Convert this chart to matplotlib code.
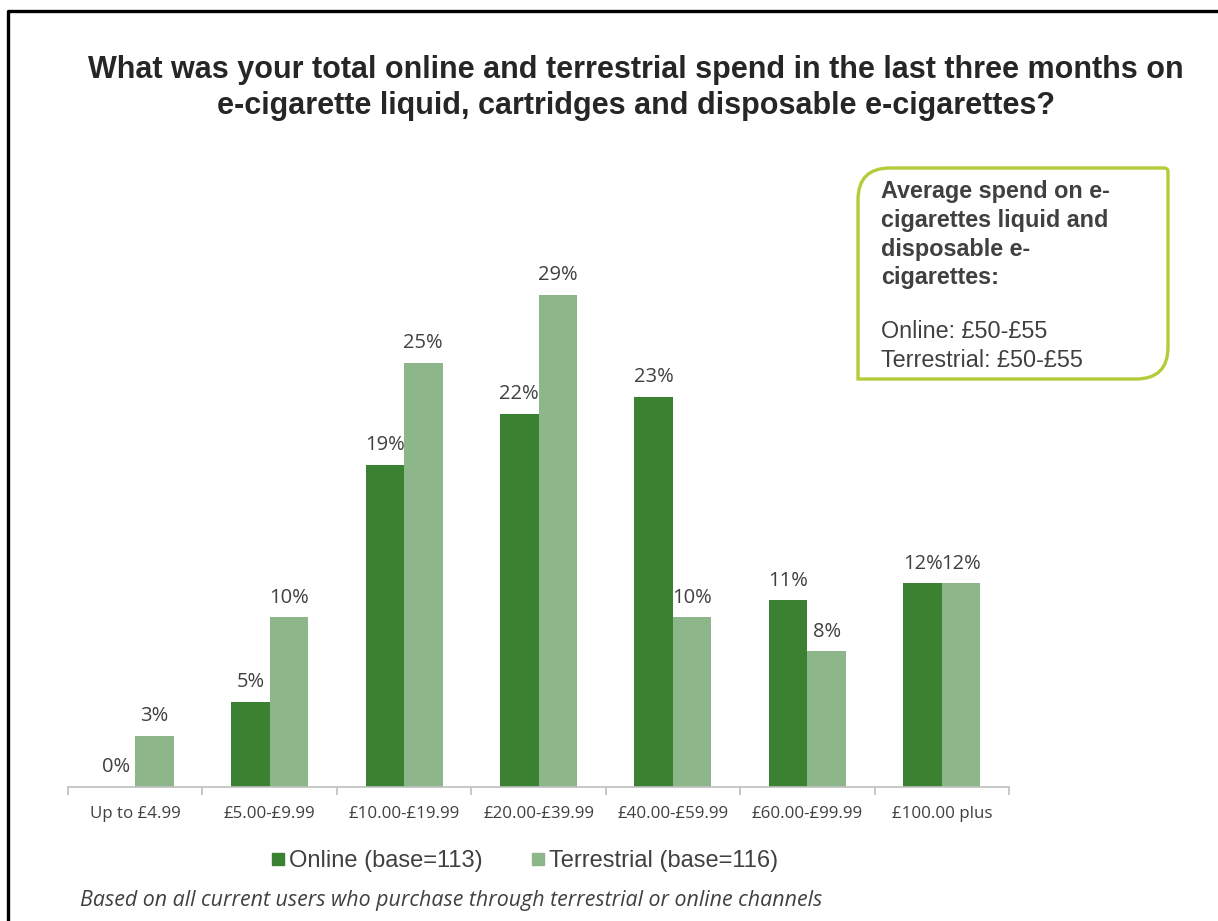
import matplotlib.pyplot as plt
import numpy as np
from matplotlib.patches import PathPatch
from matplotlib.path import Path
from matplotlib.lines import Line2D

categories = ["Up to £4.99", "£5.00-£9.99", "£10.00-£19.99", "£20.00-£39.99",
              "£40.00-£59.99", "£60.00-£99.99", "£100.00 plus"]
online = [0, 5, 19, 22, 23, 11, 12]
terrestrial = [3, 10, 25, 29, 10, 8, 12]
series_names = ["Online (base=113)", "Terrestrial (base=116)"]

title = ("What was your total online and terrestrial spend in the last three months on\n"
         "e-cigarette liquid, cartridges and disposable e-cigarettes?")
callout_head = "Average spend on e-\ncigarettes liquid and\ndisposable e-\ncigarettes:"
callout_body = "Online: £50-£55\nTerrestrial: £50-£55"
footnote = "Based on all current users who purchase through terrestrial or online channels"

DARK = "#3b8132"
LIGHT = "#8db68a"
TEXT = "#404040"

W, H = 1218, 921
fig = plt.figure(figsize=(W / 100, H / 100), dpi=100)


def fx(px):
    return px / W


def fy(py):
    return 1 - py / H


# plot area: baseline at y=787px, 16.97 px per percentage point
ax_left, ax_right, ax_top, ax_bottom = 68, 1009, 250, 787
ax = fig.add_axes([fx(ax_left), fy(ax_bottom), fx(ax_right - ax_left),
                   (ax_bottom - ax_top) / H])
ax.set_xlim(0, len(categories))
ax.set_ylim(0, (ax_bottom - ax_top) / 16.97)

x = np.arange(len(categories)) + 0.5
bw = 0.286
b1 = ax.bar(x - bw / 2, online, bw, color=DARK, label=series_names[0])
b2 = ax.bar(x + bw / 2, terrestrial, bw, color=LIGHT, label=series_names[1])

for bars, vals in ((b1, online), (b2, terrestrial)):
    for rect, v in zip(bars, vals):
        ax.annotate(f"{v}%", (rect.get_x() + rect.get_width() / 2, v),
                    xytext=(0, 7), textcoords="offset points",
                    ha="center", va="bottom", fontsize=14.5,
                    family="Open Sans", color=TEXT)

for s in ("left", "right", "top"):
    ax.spines[s].set_visible(False)
ax.spines["bottom"].set_color("#bfbfbf")
ax.spines["bottom"].set_linewidth(1.2)
ax.set_yticks([])
ax.set_xticks(np.arange(len(categories) + 1), minor=False)
ax.set_xticklabels([])
ax.tick_params(axis="x", length=6, color="#bfbfbf", width=1.2)
ax.set_xticks(x, minor=True)
ax.set_xticklabels(categories, minor=True, fontsize=12.2, family="Open Sans",
                   color=TEXT)
ax.tick_params(axis="x", which="minor", length=0, pad=14)

fig.text(fx(636), fy(88), title, ha="center", va="center", fontsize=22,
         fontweight="bold", family="Liberation Sans", color="#262626",
         linespacing=1.3)

# legend
handles = [Line2D([], [], marker="s", ls="", color=DARK, markersize=9),
           Line2D([], [], marker="s", ls="", color=LIGHT, markersize=9)]
fig.legend(handles, series_names, loc="center", bbox_to_anchor=(fx(524), fy(861)),
           ncol=2, frameon=False, handletextpad=0.1, columnspacing=2.0,
           handlelength=0.7, prop={"family": "Liberation Sans", "size": 17},
           labelcolor=TEXT)

fig.text(fx(80), fy(900), footnote, ha="left", va="center", fontsize=15.4,
         style="italic", family="Open Sans", color=TEXT)

# callout box with rounded diagonal corners
x0, y0, x1, y1 = fx(858), fy(379), fx(1168), fy(168)
rx, ry = fx(32), 32 / H
sx, sy = fx(4), 4 / H
verts = [
    (x0 + rx, y1), (x1 - sx, y1), (x1, y1), (x1, y1 - sy),
    (x1, y0 + ry), (x1, y0), (x1 - rx, y0),
    (x0, y0), (x0, y1 - ry), (x0, y1), (x0 + rx, y1),
]
codes = [Path.MOVETO, Path.LINETO, Path.CURVE3, Path.CURVE3,
         Path.LINETO, Path.CURVE3, Path.CURVE3,
         Path.LINETO, Path.LINETO, Path.CURVE3, Path.CURVE3]
fig.patches.append(PathPatch(Path(verts, codes), transform=fig.transFigure,
                             facecolor="white", edgecolor="#b5cc3a", lw=2.4))
fig.text(fx(881), fy(180), callout_head, ha="left", va="top", fontsize=16.8,
         fontweight="bold", family="Liberation Sans", color=TEXT,
         linespacing=1.32)
fig.text(fx(881), fy(320), callout_body, ha="left", va="top", fontsize=16.8,
         family="Liberation Sans", color=TEXT, linespacing=1.36)

# outer frame, open at right and bottom
fig.add_artist(Line2D([fx(8), fx(8), 1], [0, fy(11), fy(11)],
                      transform=fig.transFigure, color="black", lw=2.4))

fig.savefig("out.png", dpi=100, facecolor="white")
